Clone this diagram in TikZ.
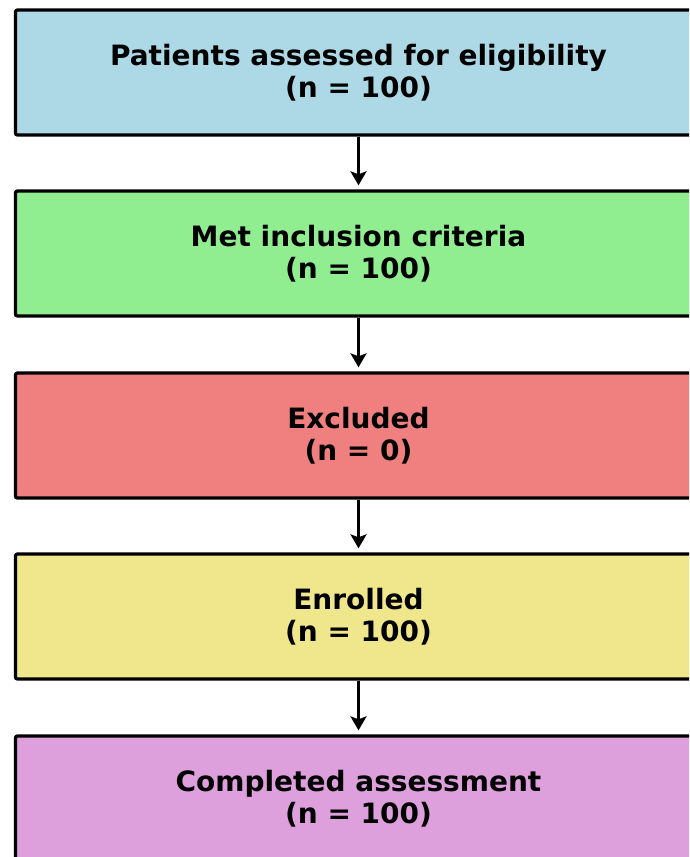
\documentclass[tikz,border=0pt]{standalone}
\usepackage{fontspec}
\setmainfont{DejaVu Sans}
\usetikzlibrary{arrows.meta}
\definecolor{cblue}{HTML}{ADD8E6}
\definecolor{cgreen}{HTML}{90EE90}
\definecolor{cred}{HTML}{F08080}
\definecolor{cyellow}{HTML}{F0E68C}
\definecolor{cplum}{HTML}{DDA0DD}
\begin{document}
\begin{tikzpicture}[x=1pt,y=1pt,
  flowbox/.style={draw=black, line width=3.3pt, rounded corners=2pt,
    minimum width=686pt, minimum height=125pt, inner sep=0pt,
    align=center, font=\fontsize{28}{32}\selectfont\bfseries},
  flowarrow/.style={draw=black, line width=3.3pt,
    -{Stealth[length=14pt,width=16pt,inset=3pt]}, shorten >=4pt}]
\useasboundingbox (0,0) rectangle (689,-857);
\clip (0,0) rectangle (689,-857);
\node[flowbox, fill=cblue]   (b1) at (358.5,-72.5)  {Patients assessed for eligibility\\(n = 100)};
\node[flowbox, fill=cgreen]  (b2) at (358.5,-253.5) {Met inclusion criteria\\(n = 100)};
\node[flowbox, fill=cred]    (b3) at (358.5,-435.5) {Excluded\\(n = 0)};
\node[flowbox, fill=cyellow] (b4) at (358.5,-616.5) {Enrolled\\(n = 100)};
\node[flowbox, fill=cplum]   (b5) at (358.5,-798.5) {Completed assessment\\(n = 100)};
\draw[flowarrow] (b1.south) -- (b2.north);
\draw[flowarrow] (b2.south) -- (b3.north);
\draw[flowarrow] (b3.south) -- (b4.north);
\draw[flowarrow] (b4.south) -- (b5.north);
\end{tikzpicture}
\end{document}
